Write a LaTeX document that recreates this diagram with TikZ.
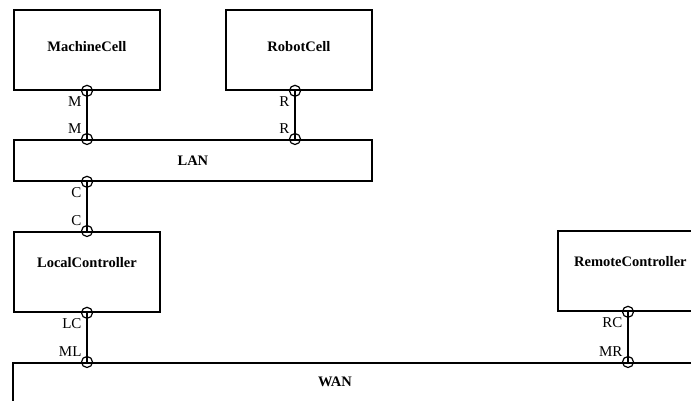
\documentclass[tikz,border=0pt]{standalone}
\usepackage{fontspec}
\setmainfont{Liberation Serif}
\usetikzlibrary{positioning}

\begin{document}
\begin{tikzpicture}[x=1pt,y=-1pt,
 block/.style={draw=black,line width=1.8pt,anchor=north west,inner sep=0pt,
   font=\fontsize{14.5}{17}\selectfont\bfseries},
 port/.style={draw=black,circle,line width=1.2pt,minimum size=11pt,
   inner sep=0pt,fill=none},
 plbl/.style={inner sep=1pt,font=\fontsize{15}{17}\selectfont},
 wire/.style={draw=black,line width=1.8pt}
]
\useasboundingbox (0,0) rectangle (691,400);

\node[block,minimum width=146pt,minimum height=80pt,text depth=6pt] (machine) at (13,9) {MachineCell};
\node[block,minimum width=146pt,minimum height=80pt,text depth=6pt] (robot) at (225,9) {RobotCell};
\node[block,minimum width=358pt,minimum height=41pt] (lan) at (13,139) {LAN};
\node[block,minimum width=146pt,minimum height=80pt,text depth=18pt] (local) at (13,231) {LocalController};
\node[block,minimum width=145pt,minimum height=80pt,text depth=18pt] (remote) at (557,230) {RemoteController};
\node[block,minimum width=720pt,minimum height=80pt] (wan) at (12,362) {};
\node[font=\fontsize{14.5}{17}\selectfont\bfseries] (wanname) at (335,382) {WAN};

% ports
\node[port,label={[plbl,anchor=north east]south west:M}] (machineM) at (87,0 |- machine.south) {};
\node[port,label={[plbl,anchor=south east]north west:M}] (lanM) at (87,0 |- lan.north) {};
\node[port,label={[plbl,anchor=north east]south west:R}] (robotR) at (295,0 |- robot.south) {};
\node[port,label={[plbl,anchor=south east]north west:R}] (lanR) at (295,0 |- lan.north) {};
\node[port,label={[plbl,anchor=north east]south west:C}] (lanC) at (87,0 |- lan.south) {};
\node[port,label={[plbl,anchor=south east]north west:C}] (localC) at (87,0 |- local.north) {};
\node[port,label={[plbl,anchor=north east]south west:LC}] (localLC) at (87,0 |- local.south) {};
\node[port,label={[plbl,anchor=south east]north west:ML}] (wanML) at (87,0 |- wan.north) {};
\node[port,label={[plbl,anchor=north east]south west:RC}] (remoteRC) at (628,0 |- remote.south) {};
\node[port,label={[plbl,anchor=south east]north west:MR}] (wanMR) at (628,0 |- wan.north) {};

\draw[wire] (machineM.center) -- (lanM.center);
\draw[wire] (robotR.center) -- (lanR.center);
\draw[wire] (lanC.center) -- (localC.center);
\draw[wire] (localLC.center) -- (wanML.center);
\draw[wire] (remoteRC.center) -- (wanMR.center);
\end{tikzpicture}
\end{document}
